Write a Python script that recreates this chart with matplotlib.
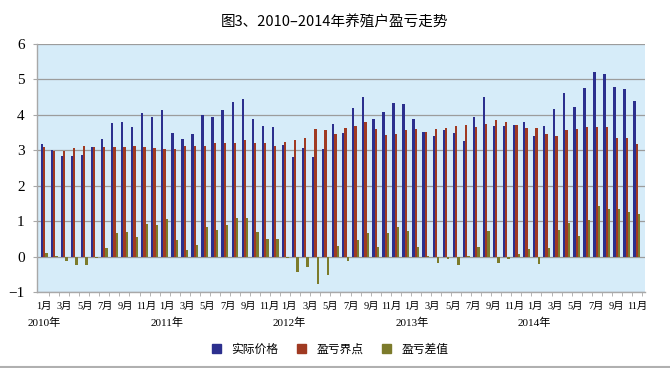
import numpy as np
import matplotlib
matplotlib.use("Agg")
import matplotlib.pyplot as plt
from matplotlib.patches import Rectangle
from matplotlib.lines import Line2D

plt.rcParams['font.family'] = ['Liberation Serif', 'Noto Sans CJK SC', 'DejaVu Sans']

# ---- data (Jan 2010 - Dec 2014) ----
actual_price = [
    3.17, 3.00, 2.85, 2.84, 2.87, 3.09, 3.33, 3.76, 3.81, 3.66, 4.06, 3.95,   # 2010
    4.13, 3.49, 3.33, 3.46, 3.99, 3.95, 4.13, 4.37, 4.44, 3.89, 3.68, 3.66,   # 2011
    3.16, 2.81, 3.06, 2.81, 3.04, 3.75, 3.49, 4.19, 4.51, 3.88, 4.09, 4.33,   # 2012
    4.30, 3.88, 3.53, 3.40, 3.56, 3.49, 3.27, 3.95, 4.51, 3.69, 3.69, 3.72,   # 2013
    3.81, 3.40, 3.69, 4.16, 4.61, 4.22, 4.76, 5.21, 5.15, 4.80, 4.72, 4.40,   # 2014
]
breakeven = [
    3.09, 2.97, 2.97, 3.06, 3.13, 3.09, 3.09, 3.09, 3.09, 3.13, 3.09, 3.06,
    3.03, 3.04, 3.13, 3.13, 3.13, 3.20, 3.20, 3.20, 3.30, 3.20, 3.20, 3.13,
    3.23, 3.29, 3.36, 3.59, 3.56, 3.46, 3.62, 3.69, 3.79, 3.59, 3.44, 3.46,
    3.56, 3.59, 3.53, 3.59, 3.62, 3.69, 3.72, 3.66, 3.75, 3.85, 3.79, 3.70,
    3.62, 3.62, 3.46, 3.40, 3.56, 3.59, 3.66, 3.66, 3.66, 3.36, 3.36, 3.17,
]
difference = [
    0.10, 0.03, -0.12, -0.23, -0.23, -0.03, 0.25, 0.66, 0.69, 0.54, 0.91, 0.88,
    1.06, 0.46, 0.19, 0.32, 0.84, 0.75, 0.88, 1.09, 1.09, 0.68, 0.49, 0.49,
    -0.05, -0.44, -0.29, -0.78, -0.52, 0.30, -0.12, 0.48, 0.66, 0.28, 0.66, 0.84,
    0.71, 0.28, 0.03, -0.17, -0.07, -0.23, 0.02, 0.28, 0.71, -0.17, -0.08, 0.06,
    0.21, -0.22, 0.25, 0.75, 0.96, 0.59, 1.03, 1.44, 1.35, 1.35, 1.27, 1.19,
]
month_labels = ['1月', '3月', '5月', '7月', '9月', '11月'] * 5
year_labels = ['2010年', '2011年', '2012年', '2013年', '2014年']
series_names = ['实际价格', '盈亏界点', '盈亏差值']
colors = ['#2C2F8E', '#A03A22', '#7C7B2B']
title = '图3、2010–2014年养殖户盈亏走势'

# ---- figure ----
fig = plt.figure(figsize=(6.70, 3.68), dpi=100)
ax = fig.add_axes([37/670, 1-292/368, (645-37)/670, (292-44)/368])
ax.set_facecolor('#D6ECF9')

n = len(actual_price)
x = np.arange(n)
w = 0.23
for i, vals in enumerate([actual_price, breakeven, difference]):
    ax.bar(x + (i - 1) * w, vals, width=w, color=colors[i], edgecolor='none',
           zorder=3)

ax.set_ylim(-1, 6)
ax.set_xlim(-0.7, n - 0.2)
ax.set_yticks(range(-1, 7))
ax.set_yticklabels(['−1', '0', '1', '2', '3', '4', '5', '6'], fontsize=11)
ax.grid(axis='y', color='#9C9C9C', linewidth=0.9, zorder=1)
ax.set_axisbelow(True)

for s in ['top', 'right']:
    ax.spines[s].set_visible(False)
for s in ['left', 'bottom']:
    ax.spines[s].set_color('#A8A8A8')
    ax.spines[s].set_linewidth(1.0)
ax.tick_params(axis='y', length=3, color='#A8A8A8', pad=6)

# minor ticks between groups on x axis
ax.set_xticks(np.arange(n) + 0.5, minor=True)
ax.tick_params(axis='x', which='minor', length=3, color='#A8A8A8')
mpos = np.linspace(0, n - 1, len(month_labels))
ax.set_xticks(mpos)
ax.set_xticklabels(month_labels, fontsize=7.5)
ax.tick_params(axis='x', which='major', length=0, pad=7)

ypos = mpos[::6]
for xp, lab in zip(ypos, year_labels):
    ax.text(xp, -0.105, lab, transform=ax.get_xaxis_transform(), ha='center',
            va='top', fontsize=8)

fig.text(0.5, 1 - 22/368, title, ha='center', va='center', fontsize=10.5,
         family=['Noto Sans CJK SC', 'DejaVu Sans'])

handles = [Rectangle((0, 0), 1, 1, color=c) for c in colors]
leg = fig.legend(handles, series_names, loc='center', bbox_to_anchor=(0.493, 1 - 349/368),
                 ncol=3, frameon=False, handlelength=0.75,
                 handleheight=0.75, columnspacing=1.6, handletextpad=0.9,
                 prop={'family': ['Noto Sans CJK SC'], 'size': 8.5})

fig.add_artist(Line2D([0, 1], [1.5/368, 1.5/368], color='#B0B0B0', lw=1.5,
                      transform=fig.transFigure))

fig.savefig('out.png', dpi=100)
